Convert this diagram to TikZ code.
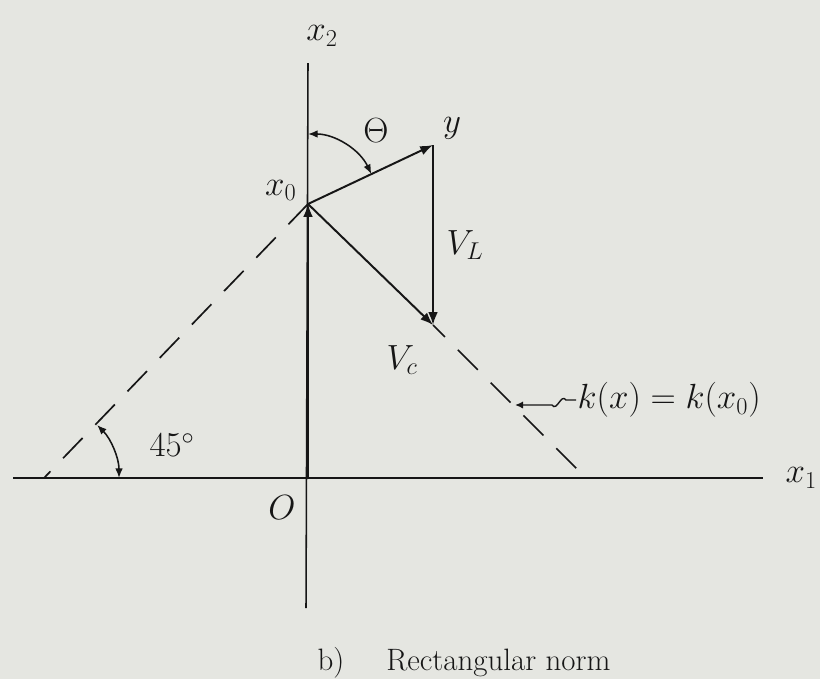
\documentclass[tikz,border=0pt]{standalone}
\usepackage{tikz}
\usetikzlibrary{arrows.meta,calc,positioning}
\definecolor{paper}{RGB}{229,230,225}
\definecolor{ink}{RGB}{22,22,22}

\begin{document}
\begin{tikzpicture}[
    x=0.025cm, y=-0.025cm,
    font=\fontsize{24}{28}\selectfont,
    axis/.style={draw=ink, line width=1.1pt},
    vec/.style={draw=ink, line width=1.4pt, -{Latex[length=3.2mm, width=2.4mm]}},
    level/.style={draw=ink, line width=1.2pt, dash pattern=on 20pt off 13pt},
    anglearc/.style={draw=ink, line width=1.1pt,
                     {Latex[length=2.4mm, width=1.9mm]}-{Latex[length=2.4mm, width=1.9mm]}},
    leader/.style={draw=ink, line width=1pt, -{Latex[length=2mm, width=1.8mm]}},
    lbl/.style={inner sep=1pt, text=ink},
    caption/.style={inner sep=0pt, text=ink, font=\fontsize{22}{26}\selectfont}
]
\fill[paper] (0,0) rectangle (820,679);
\useasboundingbox (0,0) rectangle (820,679);

% points
\coordinate (O) at (308,478);
\coordinate (x0) at (308,204);
\coordinate (y) at (433,145);
\coordinate (vc) at (433,325);
\coordinate (p45) at (44,478);
\coordinate (q45) at (586,478);
\coordinate (kfoot) at (515,405);
\coordinate (axL) at (13,478);
\coordinate (axR) at (763,478);
\coordinate (axT) at (308,63);
\coordinate (axB) at (306,608);

% axes
\draw[axis] (axL) -- (axR);
\draw[axis] (axB) -- (axT);

% level set k(x)=k(x0)
\draw[level] (x0) -- (p45);
\draw[level, dash phase=8pt] (vc) -- (q45);

% vectors
\draw[vec, line width=1.1pt] (O) -- (x0);
\draw[vec] (x0) -- (y);
\draw[vec] (y) -- (vc);
\draw[vec] (x0) -- (vc);

% angles
\draw[anglearc] ($(x0)+(90:1.75cm)$) arc[start angle=90, end angle=25.3, radius=1.75cm];
\draw[anglearc] ($(p45)+(45:1.875cm)$) arc[start angle=45, end angle=0, radius=1.875cm];

% labels
\node[lbl] (lx2) at (322,36) {$x_2$};
\node[lbl, anchor=west] (lx1) at (784,478) {$x_1$};
\node[lbl, above left=1pt and 7pt of x0] (lx0) {$x_0$};
\node[lbl] (ly) at (452,128) {$y$};
\node[lbl] (ltheta) at (376,131) {$\Theta$};
\node[lbl] (lvl) at (465,245) {$V_L$};
\node[lbl] (lvc) at (402,360) {$V_c$};
\node[lbl] (l45) at (172,445) {$45^\circ$};
\node[lbl] (lO) at (282,508) {$O$};
\node[lbl, anchor=west] (lk) at (576,400) {$k(x)=k(x_0)$};
\draw[leader] (lk.west) -- ++(-10,0) .. controls +(-5,-7) and +(5,7) .. ++(-14,5) -- (kfoot);

% caption
\node[caption] (cb) at (331,663) {b)};
\node[caption, anchor=west] (ct) at (386,663) {Rectangular norm};
\end{tikzpicture}
\end{document}
